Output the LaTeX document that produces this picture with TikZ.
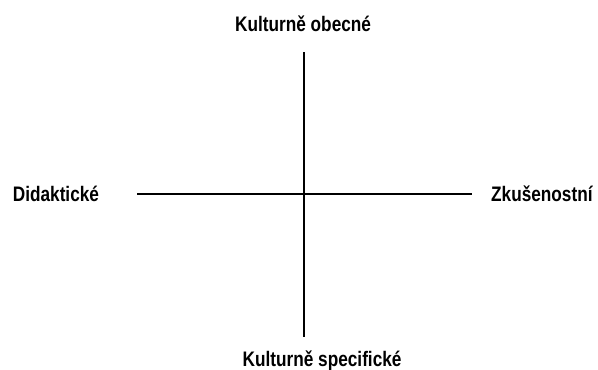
\documentclass[tikz,border=0pt]{standalone}
\usepackage{fontspec}
\setmainfont{Liberation Sans}
\begin{document}
\begin{tikzpicture}[x=1pt,y=-1pt,
  lbl/.style={font=\fontsize{21}{24}\selectfont\bfseries, inner sep=0pt, xscale=0.82, anchor=base west},
  axis/.style={line width=1.4pt, black}]
\useasboundingbox (0,0) rectangle (598,370);
\node[lbl] (top) at (235,31.7) {Kulturně obecné};
\node[lbl] (bot) at (242.5,366) {Kulturně specifické};
\node[lbl] (left) at (12.7,201.7) {Didaktické};
\node[lbl] (right) at (491,201.7) {Zkušenostní};
\coordinate (vt) at (304,52);
\coordinate (vb) at (304,337);
\coordinate (hl) at (137,194);
\coordinate (hr) at (472,194);
\draw[axis] (vt) -- (vb);
\draw[axis] (hl) -- (hr);
\end{tikzpicture}
\end{document}
